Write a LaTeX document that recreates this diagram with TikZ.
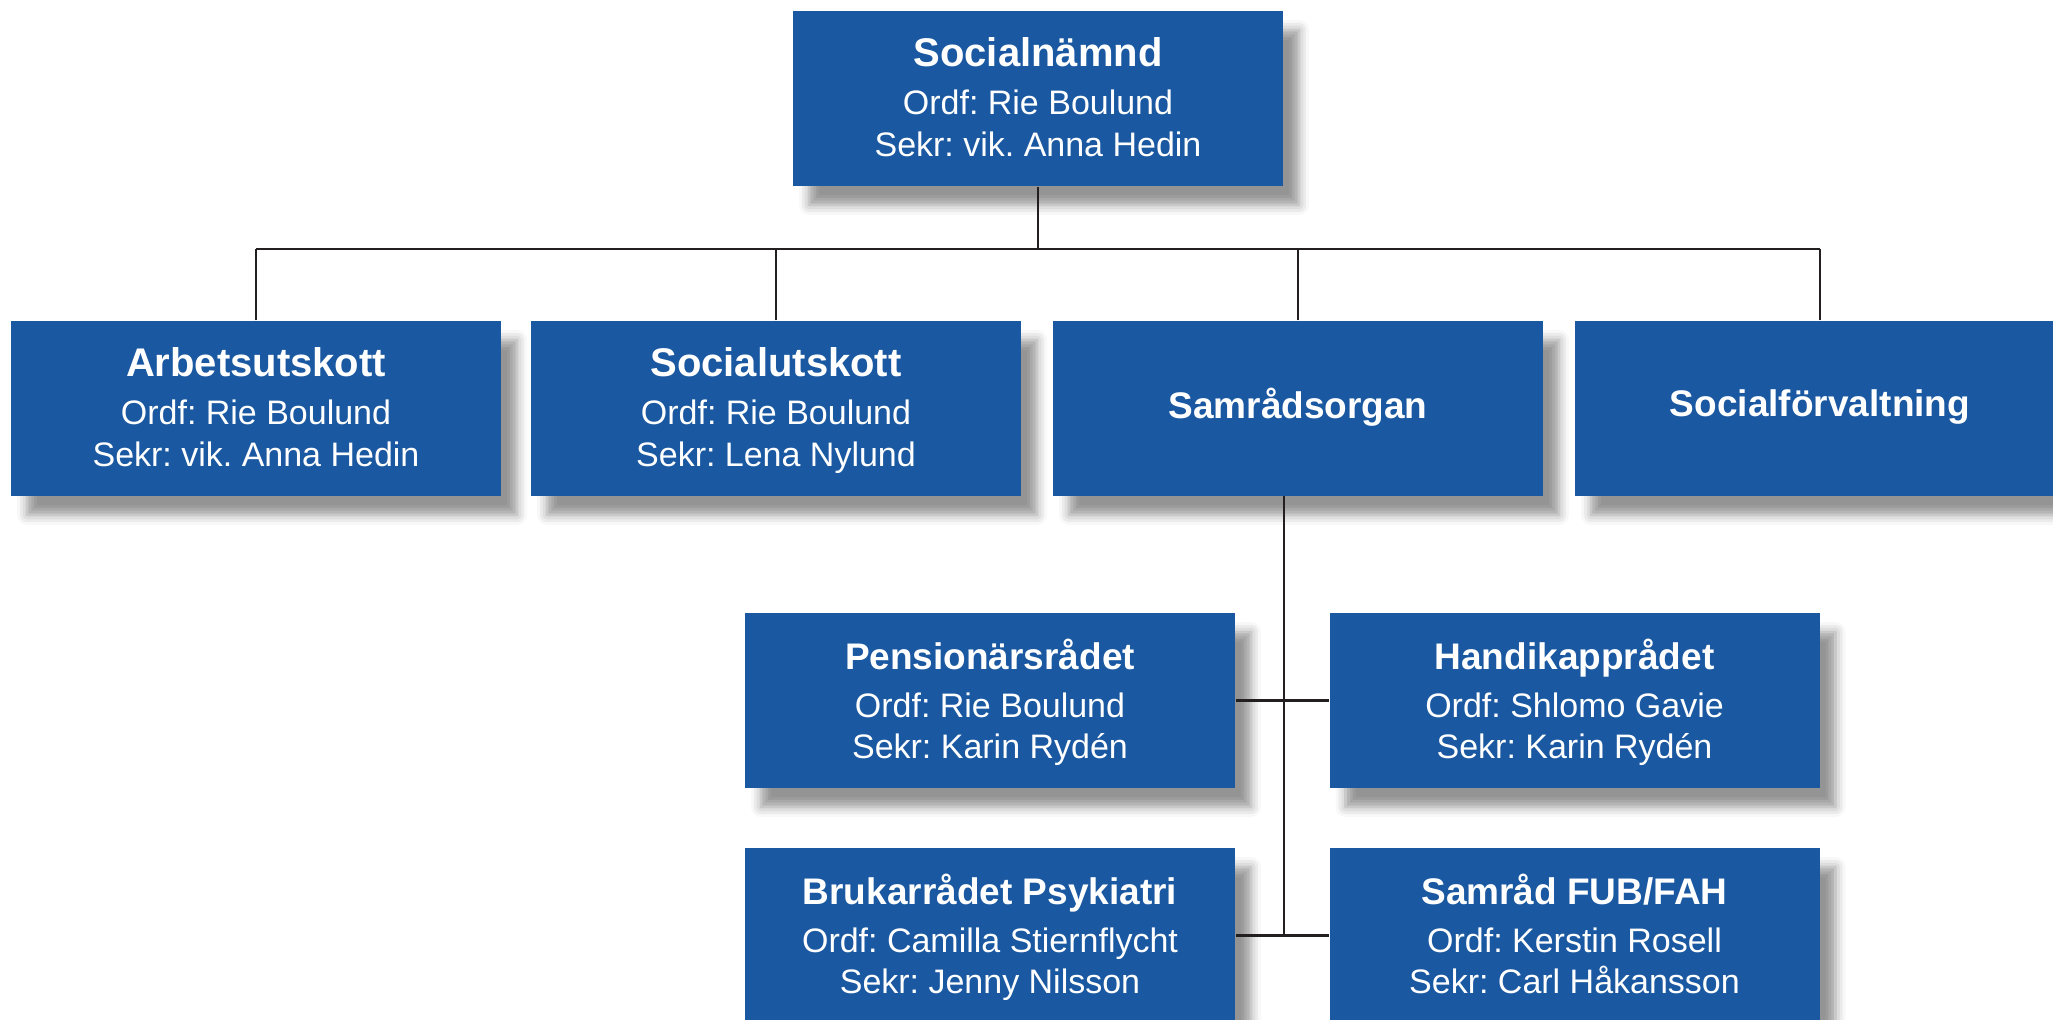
\documentclass[tikz,border=0pt]{standalone}
\usepackage{fontspec}
\setmainfont{Liberation Sans}
\usetikzlibrary{shadows.blur}
\definecolor{boxblue}{RGB}{26,88,161}
\definecolor{linecol}{RGB}{35,31,32}
\frenchspacing
\newcommand{\bigtitle}[1]{{\bfseries\fontsize{11.38}{13}\selectfont #1}}
\newcommand{\smalltitle}[1]{{\bfseries\fontsize{10.53}{12}\selectfont #1}}
\tikzset{
  orgbox/.style={rectangle, fill=boxblue, text=white, minimum width=4.9cm,
    minimum height=1.75cm, inner sep=0pt, align=center,
    font=\fontsize{9.67}{11.8}\selectfont\frenchspacing, text depth=0.03cm,
    blur shadow={shadow xshift=0.16cm, shadow yshift=-0.19cm,
      shadow blur radius=0.1cm, shadow opacity=42}},
  onebox/.style={orgbox, text depth=0.1cm},
  conn/.style={draw=linecol, line width=0.022cm}
}
\begin{document}
\begin{tikzpicture}
\useasboundingbox (0,0) rectangle (20.53,-10.20);
% top
\node[orgbox] (top) at (10.38,-0.985)
  {\bigtitle{Socialnämnd}\\[1.85pt]Ordf: Rie Boulund\\Sekr: vik. Anna Hedin};
% second level
\node[orgbox] (arb) at (2.56,-4.085)
  {\bigtitle{Arbetsutskott}\\[1.85pt]Ordf: Rie Boulund\\Sekr: vik. Anna Hedin};
\node[orgbox] (soc) at (7.76,-4.085)
  {\bigtitle{Socialutskott}\\[1.85pt]Ordf: Rie Boulund\\Sekr: Lena Nylund};
\node[onebox] (samr) at (12.98,-4.085) {\smalltitle{Samrådsorgan}};
\node[onebox] (forv) at (18.20,-4.085) {\smalltitle{Socialförvaltning}};
% third level
\node[orgbox] (pens) at (9.90,-7.005)
  {\smalltitle{Pensionärsrådet}\\[1.85pt]Ordf: Rie Boulund\\Sekr: Karin Rydén};
\node[orgbox] (hand) at (15.745,-7.005)
  {\smalltitle{Handikapprådet}\\[1.85pt]Ordf: Shlomo Gavie\\Sekr: Karin Rydén};
\node[orgbox] (bruk) at (9.90,-9.355)
  {\smalltitle{Brukarrådet Psykiatri}\\[1.85pt]Ordf: Camilla Stiernflycht\\Sekr: Jenny Nilsson};
\node[orgbox] (fub) at (15.745,-9.355)
  {\smalltitle{Samråd FUB/FAH}\\[1.85pt]Ordf: Kerstin Rosell\\Sekr: Carl Håkansson};
% connectors
\coordinate (bus) at (0,-2.49);
\coordinate (spine) at (12.84,-4.96);
\draw[conn] (top.south) -- (top.south |- bus);
\draw[conn] (arb.north |- bus) -- (forv.north |- bus);
\draw[conn] (arb.north) -- (arb.north |- bus);
\draw[conn] (soc.north) -- (soc.north |- bus);
\draw[conn] (samr.north) -- (samr.north |- bus);
\draw[conn] (forv.north) -- (forv.north |- bus);
\draw[conn] (spine) -- (spine |- fub.west);
\draw[conn] (pens.east) -- (hand.west);
\draw[conn] (bruk.east) -- (fub.west);
\end{tikzpicture}
\end{document}
